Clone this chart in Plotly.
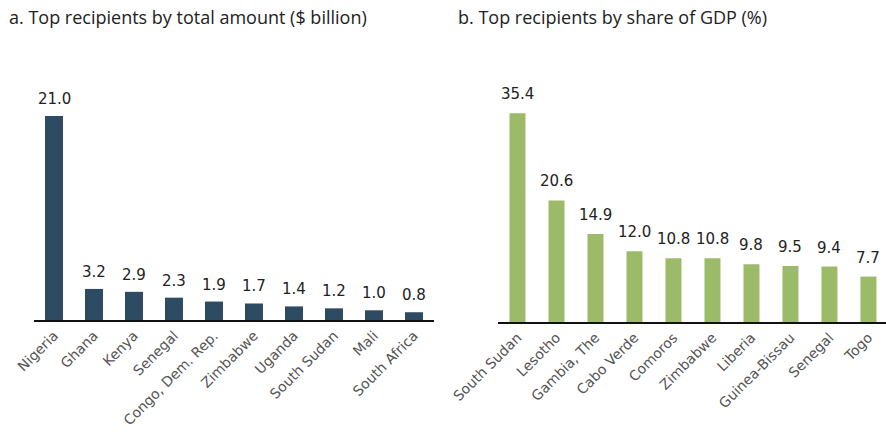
import plotly.graph_objects as go

countries_a = ["Nigeria", "Ghana", "Kenya", "Senegal", "Congo, Dem. Rep.", "Zimbabwe",
               "Uganda", "South Sudan", "Mali", "South Africa"]
values_a = [21.0, 3.2, 2.9, 2.3, 1.9, 1.7, 1.4, 1.2, 1.0, 0.8]

countries_b = ["South Sudan", "Lesotho", "Gambia, The", "Cabo Verde", "Comoros", "Zimbabwe",
               "Liberia", "Guinea-Bissau", "Senegal", "Togo"]
values_b = [35.4, 20.6, 14.9, 12.0, 10.8, 10.8, 9.8, 9.5, 9.4, 7.7]

title_a = "a. Top recipients by total amount ($ billion)"
title_b = "b. Top recipients by share of GDP (%)"

FONT = "Open Sans"
TICKFONT = "DejaVu Sans"
W, H = 886, 445

def py(pix):
    return (H - pix) / H

fig = go.Figure()
fig.add_trace(go.Bar(
    x=countries_a, y=values_a, xaxis="x", yaxis="y",
    marker=dict(color="#2d4b62", line=dict(width=0)), width=0.45,
    hoverinfo="x+y",
))
fig.add_trace(go.Bar(
    x=countries_b, y=values_b, xaxis="x2", yaxis="y2",
    marker=dict(color="#9bbb68", line=dict(width=0)), width=0.41,
    hoverinfo="x+y",
))

annotations = []
for c, v in zip(countries_a, values_a):
    annotations.append(dict(x=c, y=v, xref="x", yref="y", text=f"{v:.1f}",
                            showarrow=False, xanchor="center", yanchor="bottom", yshift=6,
                            font=dict(size=15, color="#222222", family=TICKFONT)))
for c, v in zip(countries_b, values_b):
    annotations.append(dict(x=c, y=v, xref="x2", yref="y2", text=f"{v:.1f}",
                            showarrow=False, xanchor="center", yanchor="bottom", yshift=8,
                            font=dict(size=15, color="#222222", family=TICKFONT)))
annotations += [
    dict(text=title_a, x=7 / W, y=py(3), xref="paper", yref="paper",
         xanchor="left", yanchor="top", showarrow=False,
         font=dict(size=18, color="#222222", family=FONT)),
    dict(text=title_b, x=456 / W, y=py(3), xref="paper", yref="paper",
         xanchor="left", yanchor="top", showarrow=False,
         font=dict(size=18, color="#222222", family=FONT)),
]

axis_common = dict(showline=True, linecolor="#111111", linewidth=2, ticks="",
                   tickangle=-45, tickfont=dict(size=14, color="#555555", family=TICKFONT),
                   showgrid=False, zeroline=False, fixedrange=True, automargin=False)

fig.update_layout(
    width=W, height=H, margin=dict(l=0, r=0, t=0, b=0, autoexpand=False),
    paper_bgcolor="white", plot_bgcolor="white", showlegend=False,
    font=dict(family=FONT),
    xaxis=dict(domain=[34 / W, 434 / W], anchor="y", range=[-0.5, 9.5], **axis_common),
    yaxis=dict(domain=[py(320), py(50)], range=[0, 270 / 9.71], visible=False, anchor="x",
               automargin=False, fixedrange=True),
    xaxis2=dict(domain=[498 / W, 1.0], anchor="y2", range=[-0.5, 9.45], **axis_common),
    yaxis2=dict(domain=[py(322), py(52)], range=[0, 270 / 5.9], visible=False, anchor="x2",
                automargin=False, fixedrange=True),
    annotations=annotations,
)

fig.write_html("out.html", config={"displayModeBar": False},
               post_script="document.body.style.margin='0';document.body.style.padding='0';")
